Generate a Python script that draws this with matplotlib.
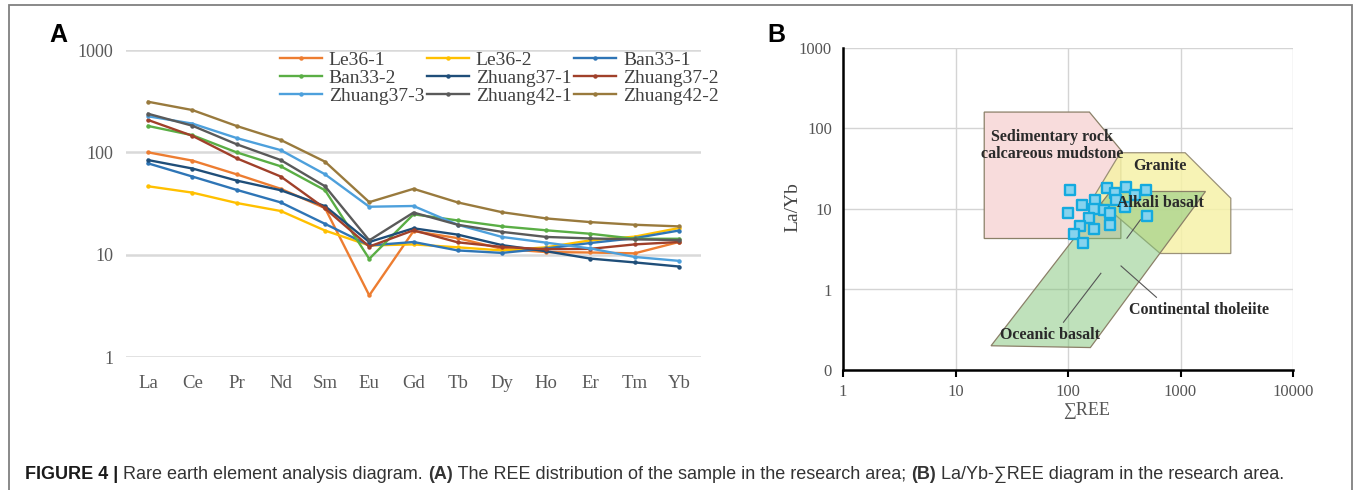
import numpy as np
import matplotlib
matplotlib.use("Agg")
import matplotlib.pyplot as plt
from matplotlib.patches import Rectangle
from matplotlib.text import Annotation

SERIF = ["Liberation Serif", "DejaVu Serif"]
SANS = ["Liberation Sans", "DejaVu Sans"]

# ---- data, panel A (chondrite normalised REE) ----
elements = ["La", "Ce", "Pr", "Nd", "Sm", "Eu", "Gd", "Tb", "Dy", "Ho", "Er", "Tm", "Yb"]
samples = ["Le36-1", "Le36-2", "Ban33-1", "Ban33-2", "Zhuang37-1",
           "Zhuang37-2", "Zhuang37-3", "Zhuang42-1", "Zhuang42-2"]
le36_1 = [100, 83, 61, 44, 28.5, 4.0, 17.0, 14.5, 11.4, 10.6, 10.5, 10.3, 13.3]
le36_2 = [46.6, 40.4, 32, 26.7, 17.2, 12.3, 12.6, 11.8, 11.0, 11.8, 13.8, 15.0, 18.2]
ban33_1 = [78, 58, 43, 32.4, 20, 12.3, 13.3, 11.0, 10.4, 11.5, 13.0, 14.5, 17.2]
ban33_2 = [181, 147, 100, 73, 42.6, 9.1, 24.8, 21.6, 18.9, 17.3, 16.0, 14.3, 14.3]
zhuang37_1 = [84, 69.5, 53, 42.6, 29.8, 13.3, 18.1, 15.7, 12.4, 10.8, 9.15, 8.4, 7.66]
zhuang37_2 = [207, 145, 87.5, 58, 28.3, 12.0, 17.3, 13.2, 11.9, 11.3, 11.4, 12.6, 13.3]
zhuang37_3 = [225, 191, 138, 105, 61, 29.4, 29.9, 19.6, 14.9, 13.1, 11.5, 9.5, 8.7]
zhuang42_1 = [238, 182, 120, 84, 46.6, 13.8, 25.8, 19.6, 16.7, 14.9, 14.4, 14.1, 13.9]
zhuang42_2 = [312, 259, 181, 132, 81, 32.6, 44, 32.4, 26, 22.6, 20.8, 19.6, 18.9]
series = [le36_1, le36_2, ban33_1, ban33_2, zhuang37_1,
          zhuang37_2, zhuang37_3, zhuang42_1, zhuang42_2]
colors = ["#ED7D31", "#FFC000", "#2E75B6", "#5AAE45", "#1F4E79",
          "#A0402A", "#4DA0DC", "#5A5A5A", "#997A3D"]

# ---- data, panel B (La/Yb vs sum REE) ----
sum_ree = [104.6, 222, 263, 328, 397, 494, 269, 323, 133, 175, 169,
           207, 238, 99, 155, 505, 128.5, 234, 172, 112, 136]
la_yb = [17.0, 18.2, 16.0, 19.0, 15.0, 17.3, 13.0, 10.7, 11.3, 13.0, 9.95,
         9.8, 9.0, 8.9, 7.7, 8.2, 6.2, 6.35, 5.6, 4.9, 3.8]

# field outlines (sum REE, La/Yb)
sed_x = [18, 155, 295, 295, 18]
sed_y = [160, 160, 54, 4.3, 4.3]
gran_x = [170, 292, 1100, 2800, 2800, 660]
gran_y = [14.3, 50, 50, 13.6, 2.8, 2.8]
bas_x = [238, 1668, 158, 20.7]
bas_y = [16.5, 16.5, 0.19, 0.2]

W, H = 1357, 490
fig = plt.figure(figsize=(W / 100, H / 100), dpi=100)
fig.patch.set_facecolor("white")

# outer frame
fig.add_artist(Rectangle((9 / W, -0.02), (1352 - 9) / W, 1 - 5.5 / H + 0.02,
                         transform=fig.transFigure, fill=False,
                         edgecolor="#808080", lw=1.3))

# ================= panel A =================
axA = fig.add_axes([126 / W, 1 - 357 / H, 575 / W, 307 / H])
x = np.arange(len(elements))
lines = []
for name, vals, c in zip(samples, series, colors):
    ln, = axA.plot(x, vals, color=c, lw=1.7, marker="o", markersize=2.2, label=name)
    lines.append(ln)
axA.set_yscale("log")
axA.set_ylim(1, 1000)
axA.set_xlim(-0.5, len(elements) - 0.5)
axA.set_yticks([1, 10, 100, 1000])
axA.set_yticklabels(["1", "10", "100", "1000"])
axA.minorticks_off()
axA.set_xticks(x)
axA.set_xticklabels(elements)
for s in axA.spines.values():
    s.set_visible(False)
axA.grid(axis="y", color="#D9D9D9", lw=1.8)
axA.set_axisbelow(True)
axA.tick_params(axis="both", length=0, labelsize=13, labelcolor="#595959")
axA.tick_params(axis="x", pad=13, labelsize=13.5)
axA.tick_params(axis="y", pad=9)
for t in axA.get_xticklabels() + axA.get_yticklabels():
    t.set_family(SERIF)

# legend filled row by row like the original
order = [0, 3, 6, 1, 4, 7, 2, 5, 8]
axA.legend([lines[i] for i in order], [samples[i] for i in order],
           loc="upper left", bbox_to_anchor=(280 / W, 1 - 51.5 / H),
           bbox_transform=fig.transFigure, ncol=3, frameon=False,
           prop={"family": SERIF, "size": 14}, labelcolor="#404040",
           handlelength=2.15, handletextpad=0.35, columnspacing=0.15,
           labelspacing=0.01, borderpad=0, borderaxespad=0)

fig.text(49 / W, 1 - 42 / H, "A", family=SANS, fontweight="bold",
         fontsize=18, va="baseline")

# ================= panel B =================
axB = fig.add_axes([843 / W, 1 - 370 / H, 450 / W, 322 / H])
axB.set_xscale("log")
axB.set_yscale("log")
axB.set_xlim(1, 10000)
axB.set_ylim(0.1, 1000)
axB.set_xticks([1, 10, 100, 1000, 10000])
axB.set_xticklabels(["1", "10", "100", "1000", "10000"])
axB.set_yticks([0.1, 1, 10, 100, 1000])
axB.set_yticklabels(["0", "1", "10", "100", "1000"])
axB.minorticks_off()
axB.grid(color="#D4D4D4", lw=1.0)
axB.set_axisbelow(True)
axB.spines["top"].set_visible(False)
axB.spines["right"].set_visible(False)
for side in ["left", "bottom"]:
    axB.spines[side].set_linewidth(1.8)
    axB.spines[side].set_color("black")
axB.tick_params(axis="x", length=5, width=1.5, pad=5, labelsize=12, labelcolor="#555555")
axB.tick_params(axis="y", length=0, pad=8, labelsize=12, labelcolor="#555555")
for t in axB.get_xticklabels() + axB.get_yticklabels():
    t.set_family(SERIF)

edge = "#8B8068"
axB.fill(sed_x, sed_y, facecolor="#F8DCDC", edgecolor=edge, lw=0.9, zorder=2)
axB.fill(gran_x, gran_y, facecolor="#F6F2A8", edgecolor=edge, lw=0.9, alpha=0.85, zorder=3)
axB.fill(bas_x, bas_y, facecolor="#80C478", edgecolor="none", alpha=0.5, zorder=4)
axB.fill(bas_x, bas_y, facecolor="none", edgecolor=edge, lw=0.9, zorder=4)

# leader lines
axB.plot([334, 440], [4.34, 7.33], color="#555555", lw=0.8, zorder=5)
axB.plot([91.2, 196], [0.392, 1.59], color="#555555", lw=0.8, zorder=5)
axB.plot([296, 611], [1.96, 0.80], color="#555555", lw=0.8, zorder=5)

tkw = dict(family=SERIF, fontweight="bold", fontsize=11.5, color="#2A2A2A",
           ha="center", va="center", zorder=7)
axB.text(72, 62, "Sedimentary rock\ncalcareous mudstone", linespacing=1.05, **tkw)
axB.text(663, 33.8, "Granite", **tkw)
axB.text(663, 12.0, "Alkali basalt", **tkw)
axB.text(1456, 0.557, "Continental tholeiite", **tkw)
axB.text(69.4, 0.272, "Oceanic basalt", **tkw)

axB.scatter(sum_ree, la_yb, marker="s", s=62, facecolor="#86D3EE",
            edgecolor="#14AADF", linewidths=1.7, zorder=6)

axB.set_xlabel("\u2211REE", family=SERIF, fontsize=13, color="#555555")
axB.xaxis.set_label_coords(0.542, -0.10)
axB.set_ylabel("La/Yb", family=SERIF, fontsize=14, color="#444444",
               va="center", ha="center")
axB.yaxis.set_label_coords(-0.111, 0.506)

fig.text(767 / W, 1 - 42 / H, "B", family=SANS, fontweight="bold",
         fontsize=18, va="baseline")

# ================= caption =================
cap_parts = [("FIGURE 4 | ", "bold"),
             ("Rare earth element analysis diagram. ", "normal"),
             ("(A)", "bold"),
             (" The REE distribution of the sample in the research area; ", "normal"),
             ("(B)", "bold"),
             (" La/Yb-\u2211REE diagram in the research area.", "normal")]
prev = fig.text(25 / W, 1 - 483 / H, cap_parts[0][0], family=SANS,
                fontweight="bold", fontsize=13, color="#1A1A1A", va="bottom")
for txt, wt in cap_parts[1:]:
    prev = fig.add_artist(Annotation(
        txt, xy=(1, 0), xycoords=prev, va="bottom", ha="left",
        family=SANS, fontweight=wt, fontsize=13, color="#333333"))

fig.savefig("out.png", dpi=100)
